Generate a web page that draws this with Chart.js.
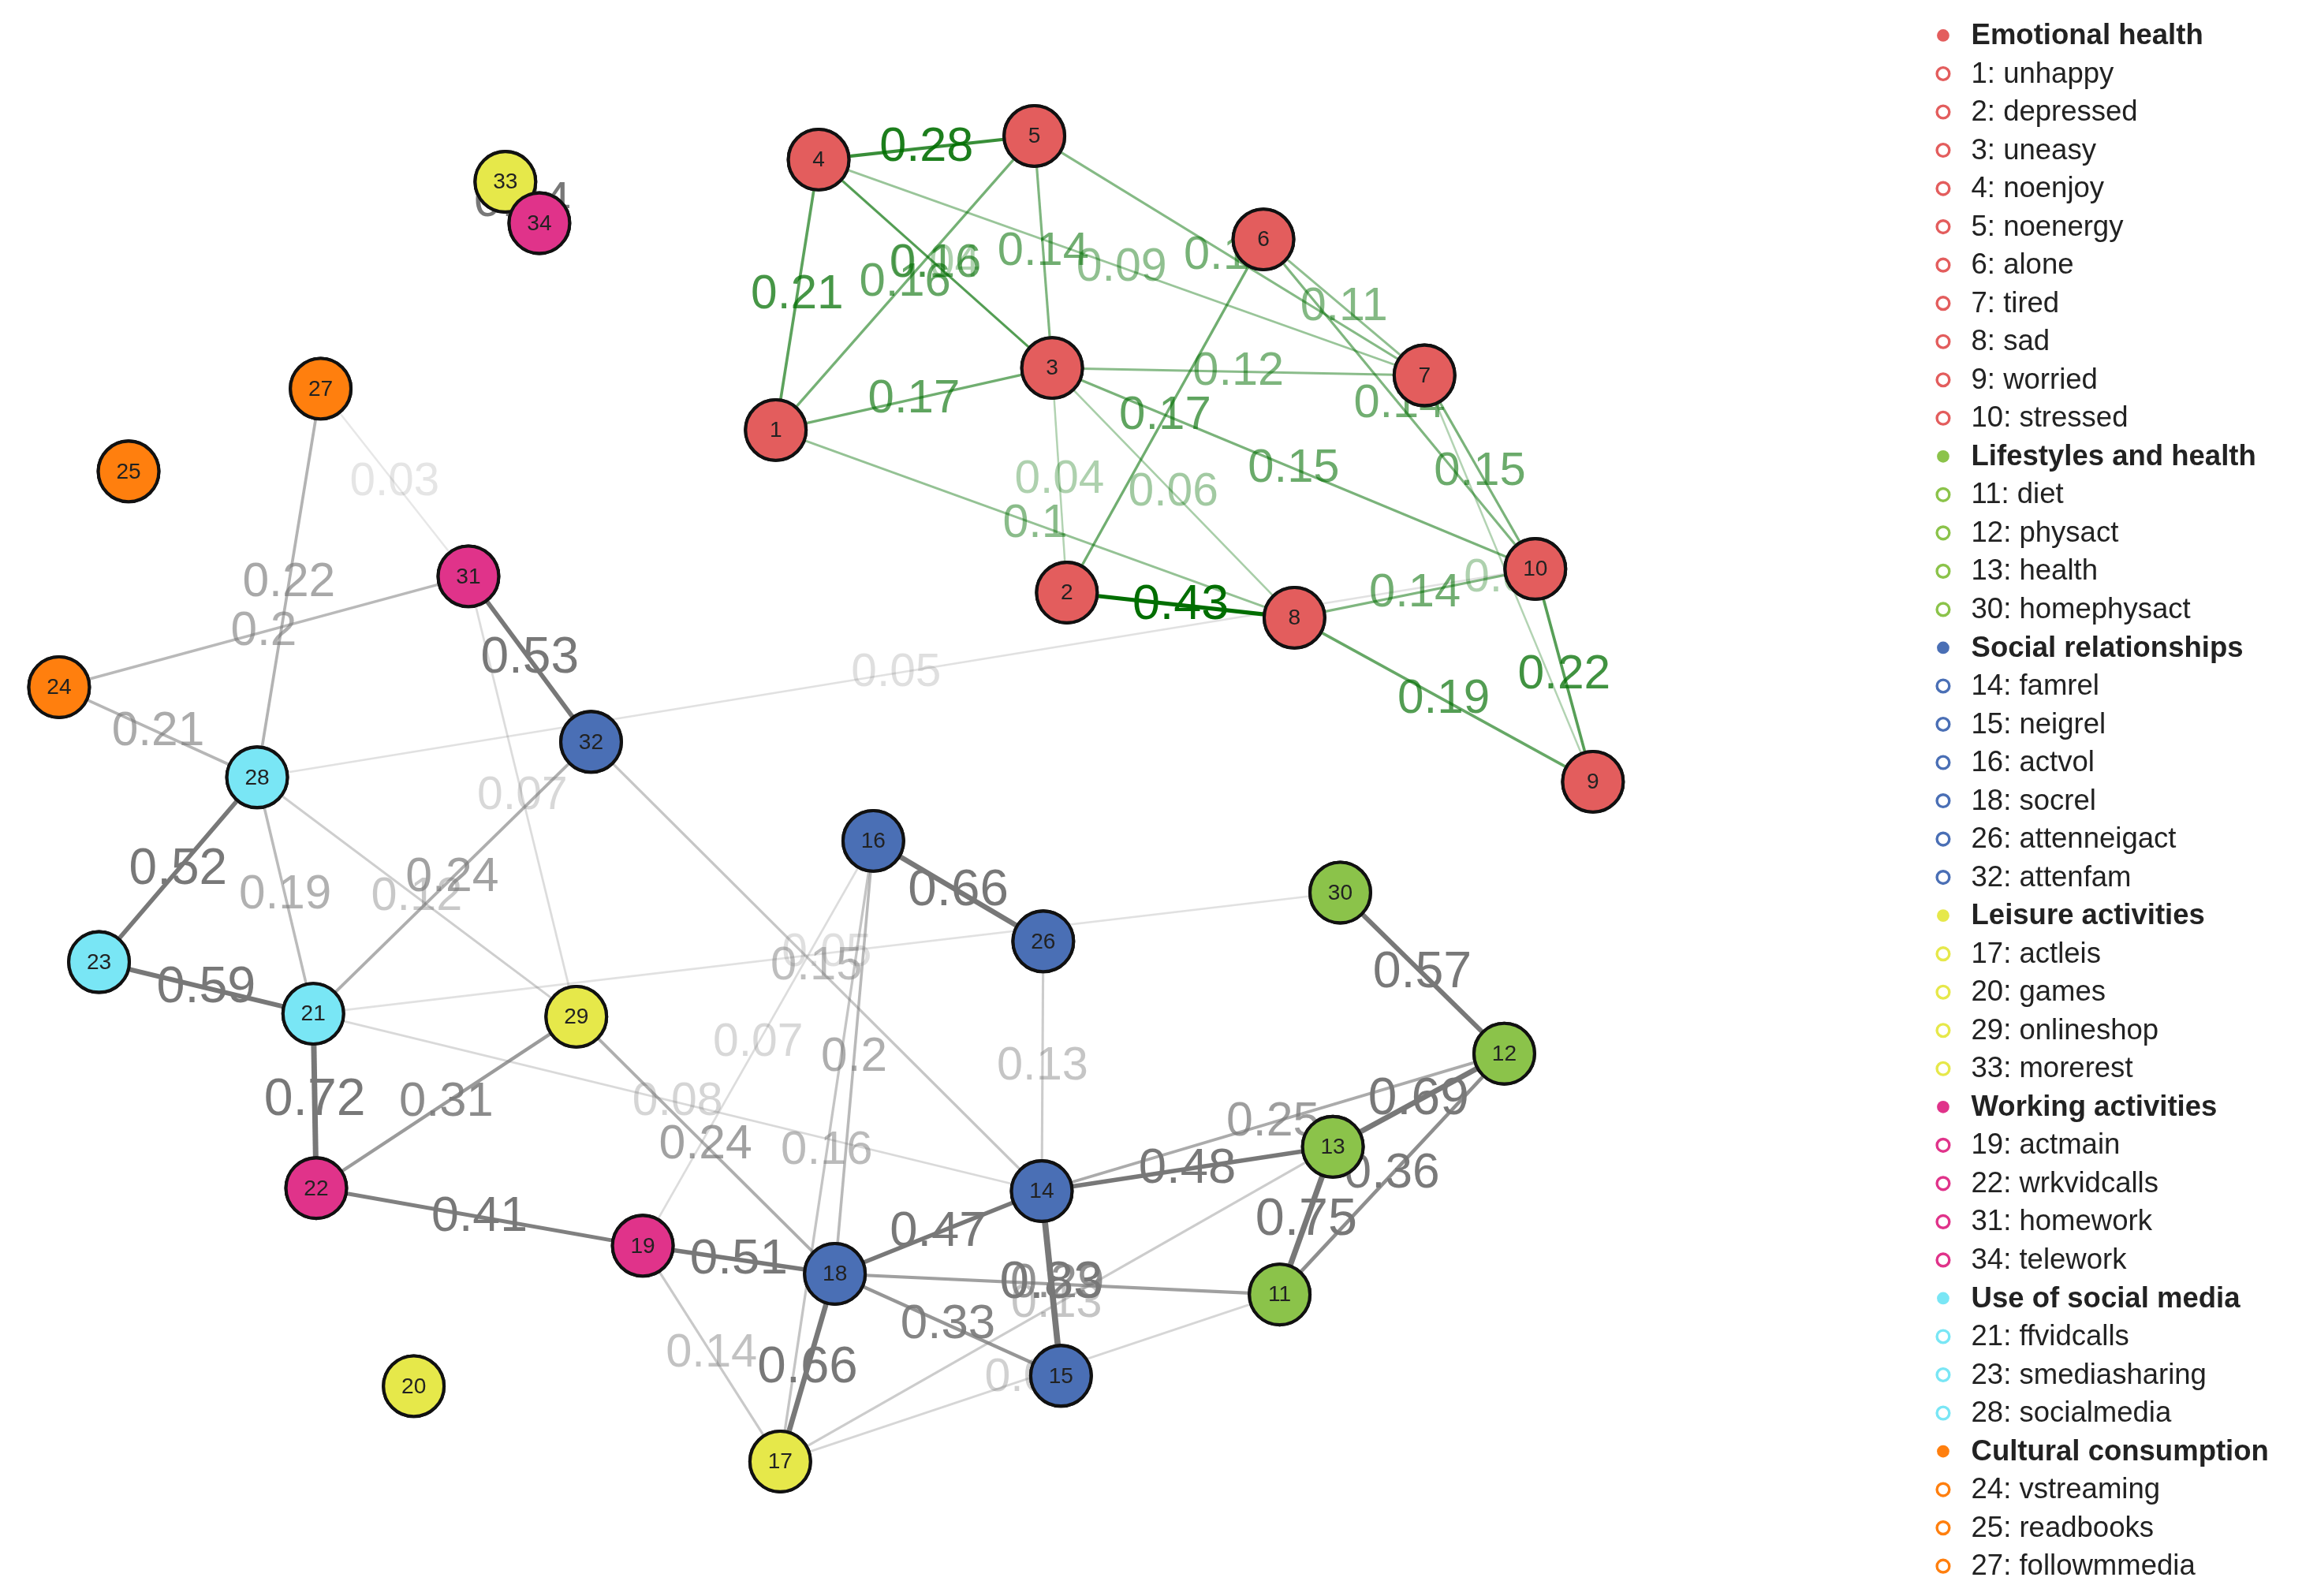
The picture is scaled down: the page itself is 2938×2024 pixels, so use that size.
<!DOCTYPE html>
<html lang="en">
<head>
<meta charset="UTF-8">
<title>Network</title>
<script src="https://cdnjs.cloudflare.com/ajax/libs/Chart.js/4.4.0/chart.umd.min.js"></script>
<style>
  html, body { margin: 0; padding: 0; background: #fff; }
  #wrap { width: 2938px; height: 2024px; }
</style>
</head>
<body>
<div id="wrap"><canvas id="net"></canvas></div>
<script>
// node layout in reference units (1568 x 1080)
const nodeIds = [1,2,3,4,5,6,7,8,9,10,11,12,13,14,15,16,17,18,19,20,21,22,23,24,25,26,27,28,29,30,31,32,33,34];
const nodeX = [525,722,712,554,700,855,964,876,1078,1039,866,1018,902,705,718,591,528,565,435,280,212,214,67,40,87,706,217,174,390,907,317,400,342,365];
const nodeY = [291,401,249,108,92,162,254,418,529,385,876,713,776,806,931,569,989,862,843,938,686,804,651,465,319,637,263,526,688,604,390,502,123,151];
// group index per node
const nodeGroup = [0,0,0,0,0,0,0,0,0,0, 1,1,1, 2,2,2,3,2,4,3,5,4,5,6,6,2,6,5,3,1,4,2,3,4];
const groupColors = ['#E35D5D','#8BC34A','#4A6FB5','#E6E84A','#E0338A','#79E6F5','#FF7F0E'];

// edges
const edgeFrom = [4,4,5,4,5,4,5,1,1,2,2,3,3,3,3,6,7,8,10,8,7,4,6,
  27,27,24,24,31,28,28,28,28,31,32,23,21,22,22,21,21,32,16,16,26,30,12,12,13,13,14,14,18,18,19,29,19,18,19,17,17,14,13,33];
const edgeTo = [5,1,1,3,3,7,7,3,8,8,6,7,10,8,2,10,10,10,9,9,9,3,7,
  28,31,31,28,32,23,21,29,10,29,21,21,22,29,19,30,14,14,26,18,14,12,13,11,11,14,15,18,11,15,18,18,16,17,17,11,16,12,17,34];
const edgeWeight = [0.28,0.21,0.16,0.16,0.14,0.09,0.13,0.17,0.1,0.43,0.17,0.12,0.15,0.06,0.04,0.14,0.15,0.14,0.22,0.19,0.04,0.04,0.11,
  0.22,0.03,0.2,0.21,0.53,0.52,0.19,0.12,0.05,0.07,0.24,0.59,0.72,0.31,0.41,0.05,0.08,0.15,0.66,0.2,0.13,0.57,0.69,0.36,0.75,0.48,0.83,0.47,0.29,0.33,0.51,0.24,0.07,0.66,0.14,0.09,0.16,0.25,0.13,0.44];

// legend
const groupNames = ['Emotional health','Lifestyles and health','Social relationships','Leisure activities','Working activities','Use of social media','Cultural consumption'];
const groupItems = [
  ['1: unhappy','2: depressed','3: uneasy','4: noenjoy','5: noenergy','6: alone','7: tired','8: sad','9: worried','10: stressed'],
  ['11: diet','12: physact','13: health','30: homephysact'],
  ['14: famrel','15: neigrel','16: actvol','18: socrel','26: attenneigact','32: attenfam'],
  ['17: actleis','20: games','29: onlineshop','33: morerest'],
  ['19: actmain','22: wrkvidcalls','31: homework','34: telework'],
  ['21: ffvidcalls','23: smediasharing','28: socialmedia'],
  ['24: vstreaming','25: readbooks','27: followmmedia']
];

const K = 2938 / 1568;
function pos(id) { const i = nodeIds.indexOf(id); return { x: nodeX[i], y: nodeY[i] }; }
function isEmo(id) { return nodeGroup[nodeIds.indexOf(id)] === 0; }
function edgeColor(a, b, w, lab) {
  const al = Math.min(1, 0.12 + w * (lab ? 2.4 : 2.0));
  if (isEmo(a) && isEmo(b)) return 'rgba(0,110,0,' + Math.min(1, al + 0.1) + ')';
  return 'rgba(120,120,120,' + al + ')';
}

const datasets = [];
edgeFrom.forEach((a, i) => {
  const b = edgeTo[i], w = edgeWeight[i];
  datasets.push({
    type: 'line', data: [pos(a), pos(b)], borderColor: edgeColor(a, b, w, false),
    borderWidth: (1.2 + w * 3.5) * K, pointRadius: 0, order: 2
  });
});
datasets.push({
  type: 'scatter',
  data: nodeIds.map((id, i) => ({ x: nodeX[i], y: nodeY[i] })),
  backgroundColor: nodeGroup.map(g => groupColors[g]),
  borderColor: '#111', borderWidth: 2.2 * K, pointRadius: 20.5 * K, order: 1
});

const labelPlugin = {
  id: 'labels',
  afterDatasetsDraw(chart) {
    const ctx = chart.ctx, xs = chart.scales.x, ys = chart.scales.y;
    ctx.save();
    ctx.textAlign = 'center'; ctx.textBaseline = 'middle';
    // edge weights
    edgeFrom.forEach((a, i) => {
      const p = pos(a), q = pos(edgeTo[i]), w = edgeWeight[i];
      ctx.font = ((31 + 6 * w) * K) + 'px Arial, "Liberation Sans"';
      ctx.fillStyle = edgeColor(a, edgeTo[i], w, true);
      ctx.fillText(String(w), xs.getPixelForValue((p.x + q.x) / 2), ys.getPixelForValue((p.y + q.y) / 2));
    });
    // node numbers (redraw circles so they sit over labels)
    nodeIds.forEach((id, i) => {
      const x = xs.getPixelForValue(nodeX[i]), y = ys.getPixelForValue(nodeY[i]);
      ctx.beginPath(); ctx.arc(x, y, 20.5 * K, 0, Math.PI * 2);
      ctx.fillStyle = groupColors[nodeGroup[i]]; ctx.fill();
      ctx.lineWidth = 2.2 * K; ctx.strokeStyle = '#111'; ctx.stroke();
      ctx.fillStyle = '#222'; ctx.font = (15 * K) + 'px Arial, "Liberation Sans"';
      ctx.fillText(String(id), x, y + 1);
    });
    // legend
    ctx.textAlign = 'left';
    let row = 0;
    groupNames.forEach((g, gi) => {
      const draw = (txt, bold) => {
        const y = (24 + row * 25.9) * K;
        ctx.beginPath(); ctx.arc(1315 * K, y, 4.2 * K, 0, Math.PI * 2);
        if (bold) { ctx.fillStyle = groupColors[gi]; ctx.fill(); }
        else { ctx.lineWidth = 1.8 * K; ctx.strokeStyle = groupColors[gi]; ctx.stroke(); }
        ctx.fillStyle = '#222';
        ctx.font = (bold ? 'bold ' : '') + (19.5 * K) + 'px Arial, "Liberation Sans"';
        ctx.fillText(txt, 1334 * K, y + 1);
        row++;
      };
      draw(g, true);
      groupItems[gi].forEach(t => draw(t, false));
    });
    ctx.restore();
  }
};

new Chart(document.getElementById('net'), {
  data: { datasets },
  options: {
    responsive: true, maintainAspectRatio: false, animation: false,
    layout: { padding: 0, autoPadding: false },
    plugins: { legend: { display: false }, tooltip: { enabled: false } },
    scales: {
      x: { type: 'linear', min: 0, max: 1568, display: false },
      y: { type: 'linear', min: 0, max: 1080, reverse: true, display: false }
    }
  },
  plugins: [labelPlugin]
});
</script>
</body>
</html>
